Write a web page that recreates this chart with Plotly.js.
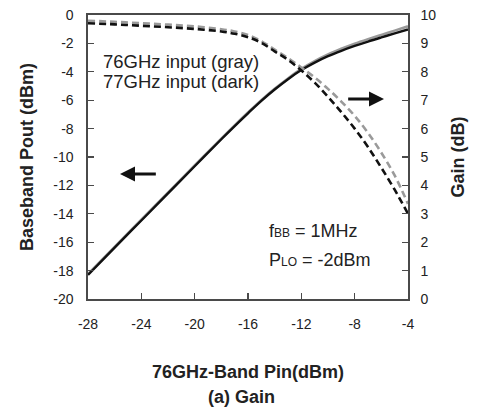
<!DOCTYPE html>
<html>
<head>
<meta charset="utf-8">
<script src="https://cdn.plot.ly/plotly-3.0.1.min.js"></script>
<style>html,body{margin:0;padding:0;background:#fff;}#chart{width:477px;height:412px;}</style>
</head>
<body>
<div id="chart"></div>
<script>
// Input power (dBm)
const pin = [-28, -26, -24, -22, -20, -18, -17, -16, -15, -14, -13, -12, -11, -10, -9, -8, -7, -6, -5, -4];
// Baseband output power (dBm)
const poutDark = [-18.3, -16.38, -14.47, -12.56, -10.65, -8.75, -7.82, -6.92, -6.05, -5.25, -4.52, -3.88, -3.35, -2.9, -2.52, -2.18, -1.87, -1.58, -1.3, -1.02];
const poutGray = [-18.25, -16.33, -14.42, -12.51, -10.6, -8.7, -7.77, -6.87, -6.0, -5.2, -4.47, -3.8, -3.25, -2.78, -2.38, -2.02, -1.7, -1.4, -1.1, -0.8];
// Conversion gain (dB)
const gainDark = [9.71, 9.67, 9.62, 9.57, 9.51, 9.42, 9.34, 9.22, 9.02, 8.72, 8.42, 8.05, 7.62, 7.12, 6.58, 6.0, 5.35, 4.62, 3.85, 3.0];
const gainGray = [9.8, 9.76, 9.71, 9.66, 9.6, 9.5, 9.42, 9.3, 9.08, 8.78, 8.48, 8.15, 7.8, 7.4, 6.95, 6.45, 5.85, 5.15, 4.35, 3.35];

const xTicks = [-28, -24, -20, -16, -12, -8, -4];
const yTicks = [-20, -18, -16, -14, -12, -10, -8, -6, -4, -2, 0];
const y2Ticks = [0, 1, 2, 3, 4, 5, 6, 7, 8, 9, 10];

const DARK = '#111111';
const GRAY = '#9a9a9a';
const FONT = 'Liberation Sans, Arial, sans-serif';
const AX = '#4a4a4a';

const traces = [
  {x: pin, y: poutGray, type: 'scatter', mode: 'lines', line: {color: GRAY, width: 2.6, shape: 'spline'}, yaxis: 'y', showlegend: false},
  {x: pin, y: poutDark, type: 'scatter', mode: 'lines', line: {color: DARK, width: 2.4, shape: 'spline'}, yaxis: 'y', showlegend: false},
  {x: pin, y: gainGray, type: 'scatter', mode: 'lines', line: {color: GRAY, width: 2.6, dash: '7px,4px', shape: 'spline'}, yaxis: 'y2', showlegend: false},
  {x: pin, y: gainDark, type: 'scatter', mode: 'lines', line: {color: DARK, width: 2.6, dash: '7px,4px', shape: 'spline'}, yaxis: 'y2', showlegend: false}
];

const axisCommon = {
  showgrid: false, zeroline: false, showline: true, linecolor: AX, linewidth: 1.6,
  ticks: 'inside', ticklen: 6, tickwidth: 1.2, tickcolor: AX,
  tickfont: {family: FONT, size: 14, color: '#222'}
};

const layout = {
  width: 477, height: 412,
  margin: {l: 88, r: 69, t: 15, b: 113},
  paper_bgcolor: '#fff', plot_bgcolor: '#fff',
  font: {family: FONT, color: '#222'},
  xaxis: Object.assign({}, axisCommon, {
    range: [-28, -4], tickvals: xTicks, ticktext: xTicks.map(String), mirror: true,
    ticklabelstandoff: 12,
    title: {text: '76GHz-Band Pin(dBm)', font: {family: FONT, size: 18, color: '#222', weight: 'bold'}, standoff: 34}
  }),
  yaxis: Object.assign({}, axisCommon, {
    range: [-20, 0], tickvals: yTicks, ticktext: yTicks.map(String),
    ticklabelstandoff: 10,
    title: {text: 'Baseband Pout (dBm)', font: {family: FONT, size: 18, color: '#222', weight: 'bold'}, standoff: 15}
  }),
  yaxis2: Object.assign({}, axisCommon, {
    range: [0, 10], tickvals: y2Ticks, ticktext: y2Ticks.map(String), overlaying: 'y', side: 'right',
    ticklabelstandoff: 8,
    title: {text: 'Gain (dB)', font: {family: FONT, size: 18, color: '#222', weight: 'bold'}, standoff: 16}
  }),
  annotations: [
    {xref: 'x', yref: 'y', x: -27.0, y: -3.25, xanchor: 'left', yanchor: 'middle', showarrow: false, text: '76GHz input (gray)', font: {family: FONT, size: 18.5, color: '#222'}},
    {xref: 'x', yref: 'y', x: -27.0, y: -4.7, xanchor: 'left', yanchor: 'middle', showarrow: false, text: '77GHz input (dark)', font: {family: FONT, size: 18.5, color: '#222'}},
    {xref: 'x', yref: 'y', x: -14.6, y: -15.2, xanchor: 'left', yanchor: 'middle', showarrow: false, text: 'f<span style="font-size:12px">BB</span> = 1MHz', font: {family: FONT, size: 18, color: '#222'}},
    {xref: 'x', yref: 'y', x: -14.6, y: -17.25, xanchor: 'left', yanchor: 'middle', showarrow: false, text: 'P<span style="font-size:12px">LO</span> = -2dBm', font: {family: FONT, size: 18, color: '#222'}},
    {xref: 'x', yref: 'y', x: -25.6, y: -11.2, axref: 'x', ayref: 'y', ax: -22.8, ay: -11.2, text: '', showarrow: true, arrowhead: 2, arrowsize: 1, arrowwidth: 3, arrowcolor: '#111', standoff: 0},
    {xref: 'x', yref: 'y2', x: -5.8, y: 7.04, axref: 'x', ayref: 'y2', ax: -8.6, ay: 7.04, text: '', showarrow: true, arrowhead: 2, arrowsize: 1, arrowwidth: 3, arrowcolor: '#111', standoff: 0},
    {xref: 'paper', yref: 'paper', x: 0.48, y: -0.345, xanchor: 'center', yanchor: 'middle', showarrow: false, text: '<b>(a) Gain</b>', font: {family: FONT, size: 18, color: '#222'}}
  ]
};

Plotly.newPlot('chart', traces, layout, {displayModeBar: false, staticPlot: true});
</script>
</body>
</html>
